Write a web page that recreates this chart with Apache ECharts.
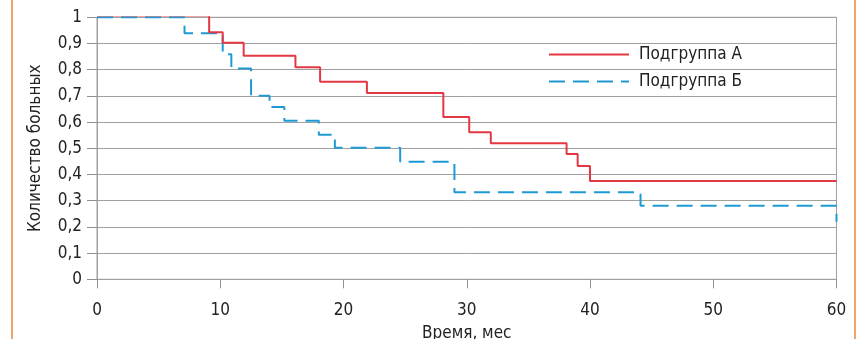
<!DOCTYPE html>
<html><head><meta charset="utf-8">
<script src="https://cdn.jsdelivr.net/npm/echarts@6/dist/echarts.min.js"></script>
<style>html,body{margin:0;padding:0;background:#fff}#c{width:859px;height:339px}</style>
</head><body><div id="c"></div>
<script>
var seriesNames = ['Подгруппа А', 'Подгруппа Б'];
var redTimes  = [0, 9.1, 10.2, 11.9, 16.1, 18.1, 21.9, 28.1, 30.2, 31.95, 38.1, 39.0, 40.0, 60];
var redValues = [1.007, 0.943, 0.903, 0.853, 0.809, 0.754, 0.711, 0.619, 0.561, 0.519, 0.478, 0.432, 0.375, 0.375];
var blueTimes  = [0, 7.1, 10.2, 10.9, 12.5, 14.0, 15.2, 18.0, 19.3, 24.6, 29.0, 44.1, 60, 60];
var blueValues = [1.0, 0.939, 0.859, 0.805, 0.701, 0.658, 0.605, 0.552, 0.502, 0.449, 0.332, 0.281, 0.281, 0.22];
var xTicks = [0, 10, 20, 30, 40, 50, 60];
var yTickLabels = ['0','0,1','0,2','0,3','0,4','0,5','0,6','0,7','0,8','0,9','1'];

function pairs(t, v){ return t.map(function(x,i){ return [x, v[i]]; }); }
var FONT = '"Liberation Sans Narrow","DejaVu Sans Condensed","Roboto",sans-serif';
var chart = echarts.init(document.getElementById('c'));
chart.setOption({
  animation: false,
  backgroundColor: '#fff',
  grid: {left: 97, right: 22.5, top: 17.3, bottom: 59.7, show: true, borderColor: '#a0a0a0', borderWidth: 1,
         containLabel: false, outerBoundsMode: 'none'},
  legend: {
    orient: 'vertical', left: 543, top: 41, itemWidth: 80, itemHeight: 12, itemGap: 10,
    itemStyle: {opacity: 0},
    textStyle: {fontFamily: FONT, fontSize: 17, color: '#222', padding: [0,0,0,5]},
    data: seriesNames
  },
  xAxis: {
    type: 'value', min: 0, max: 60, interval: 10,
    name: 'Время, мес', nameLocation: 'middle', nameGap: 46,
    nameTextStyle: {fontFamily: FONT, fontSize: 17, color: '#222'},
    axisLine: {show: true, lineStyle: {color: '#a0a0a0'}},
    axisTick: {show: true, length: 9, lineStyle: {color: '#909090'}},
    splitLine: {show: false},
    axisLabel: {fontFamily: FONT, fontSize: 17, color: '#222', margin: 23,
      formatter: function(v){ return xTicks.indexOf(v) >= 0 ? String(v) : ''; }}
  },
  yAxis: {
    type: 'value', min: 0, max: 1, interval: 0.1,
    name: 'Количество больных', nameLocation: 'middle', nameGap: 53,
    nameTextStyle: {fontFamily: FONT, fontSize: 17, color: '#222'},
    axisLine: {show: true, lineStyle: {color: '#a0a0a0'}},
    axisTick: {show: true, length: 10, lineStyle: {color: '#909090'}},
    splitLine: {show: true, lineStyle: {color: '#a0a0a0', width: 1}},
    axisLabel: {fontFamily: FONT, fontSize: 17, color: '#222', margin: 15,
      formatter: function(v){ return yTickLabels[Math.round(v*10)]; }}
  },
  series: [
    {name: seriesNames[0], type: 'line', step: 'end', symbol: 'none', showSymbol: false,
     data: pairs(redTimes, redValues), lineStyle: {color: '#e33844', width: 2}, itemStyle: {color: '#e33844'}, z: 3},
    {name: seriesNames[1], type: 'line', step: 'end', symbol: 'none', showSymbol: false,
     data: pairs(blueTimes, blueValues), lineStyle: {color: '#1e9ad3', width: 2, type: [16, 8]}, itemStyle: {color: '#1e9ad3'}, z: 2}
  ],
  graphic: [
    {type: 'line', shape: {x1: 12, y1: 0, x2: 12, y2: 339}, style: {stroke: '#f0a468', lineWidth: 2}},
    {type: 'line', shape: {x1: 855, y1: 0, x2: 855, y2: 339}, style: {stroke: '#f0a468', lineWidth: 2}}
  ]
});
</script></body></html>
